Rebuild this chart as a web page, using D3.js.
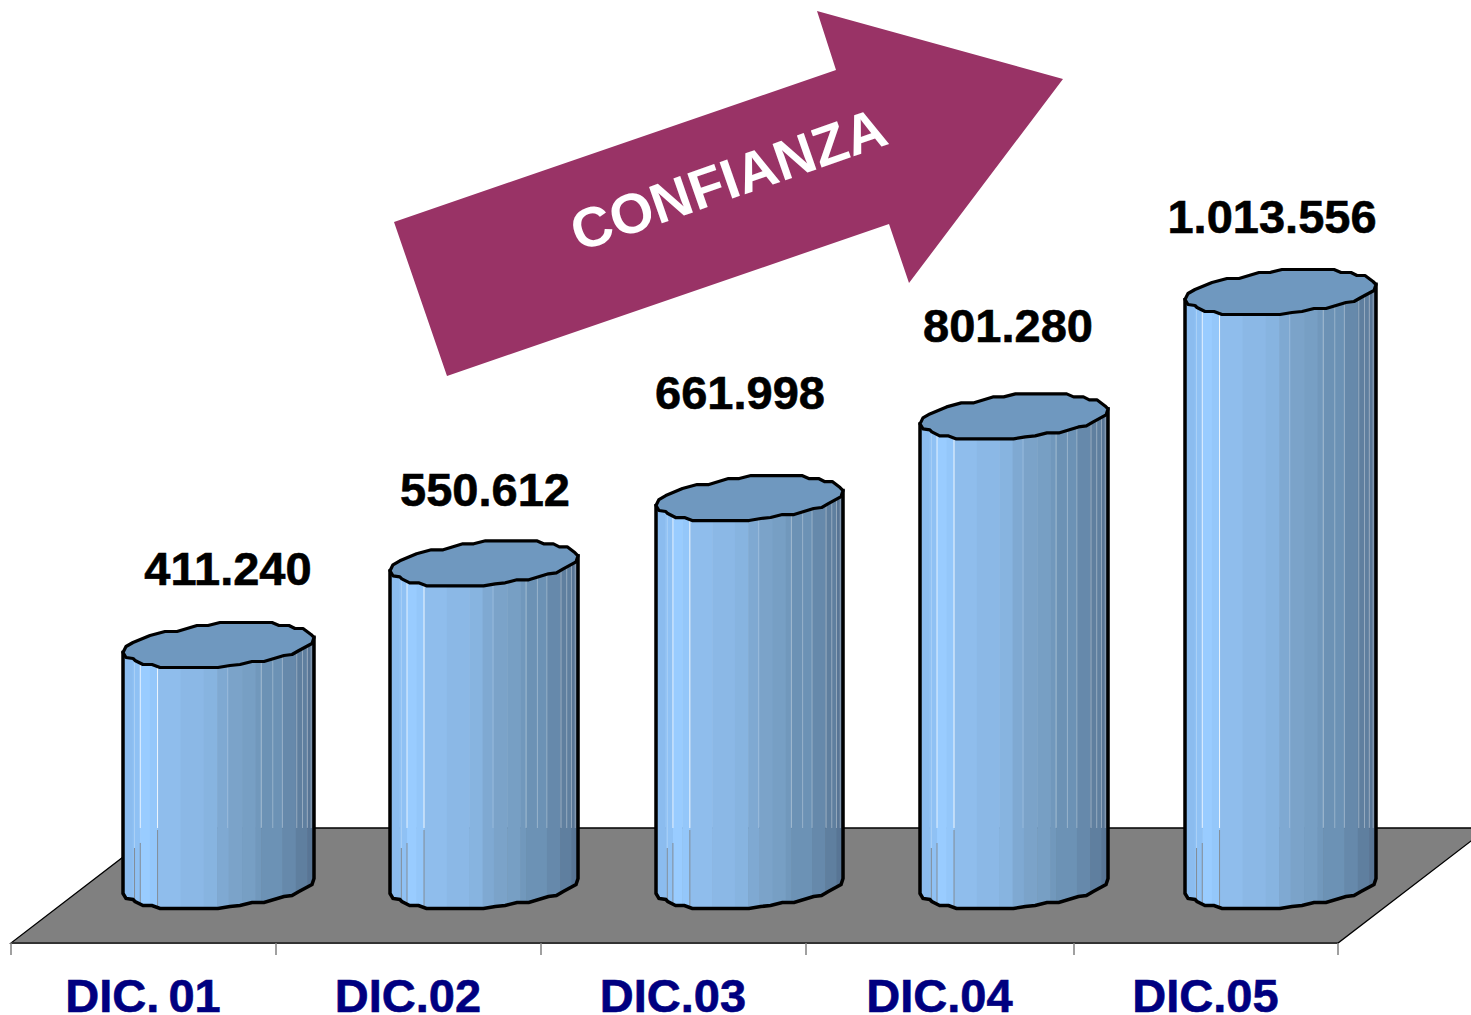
<!DOCTYPE html>
<html><head><meta charset="utf-8">
<script src="https://cdn.jsdelivr.net/npm/d3@7"></script>
<style>html,body{margin:0;padding:0;background:#fff;overflow:hidden}svg{display:block}text{font-family:"Liberation Sans",Arial,sans-serif}</style>
</head><body><div id="chart"></div>
<script>
const categories=["DIC. 01","DIC.02","DIC.03","DIC.04","DIC.05"];
const values=[411240,550612,661998,801280,1013556];
const valueLabels=["411.240","550.612","661.998","801.280","1.013.556"];
const arrowText="CONFIANZA";
// layout constants, kept apart from the data
const labelX=[228,485,740,1008,1272];
const labelDy=[-67,-65,-97,-82,-67];
const barCentres=[219,484.5,750,1014.5,1281];
const barWidths=[192,189,188,189,192];
const slotEdges=[11,276,541,806,1074,1338];
const stripEdges=[0,.05,.09,.14,.18,.30,.42,.49,.55,.62,.69,.72,.83,.90,.96,1];
const stripColors=["#8bbcef","#8fc1f4","#99ccff","#94c7fa","#8fbdec","#8bb8e6","#87b4e0","#7fa9d2","#7ba3c9","#779fc4","#7198bc","#6c92b5","#6689ab","#5f7f9f","#587595"];
const highlightEdges=[.06,.09,.18,.545,.72,.78,.83,.905,.935,.96,.98];
const highlightAlpha=[.25,.75,.85,.2,.35,.3,.3,.35,.35,.35,.35];
const W=1471,H=1015;
const svg=d3.select("#chart").append("svg").attr("width",W).attr("height",H);
const x=d3.scaleLinear().domain(d3.range(slotEdges.length)).range(slotEdges);
const y=d3.scaleLinear().domain([0,1013556]).range([893.5,299.5]);
const FLOOR_BACK=828, FLOOR_FRONT=943, SHEAR=133/102;
const floorDepth=FLOOR_FRONT-FLOOR_BACK;
svg.append("path").attr("d",d3.line()([[11,FLOOR_FRONT],[1338,FLOOR_FRONT],[1338+floorDepth*SHEAR,FLOOR_BACK],[11+floorDepth*SHEAR,FLOOR_BACK]])+"Z")
 .attr("fill","#808080").attr("stroke","#000").attr("stroke-width",1.3);
svg.append("line").attr("x1",11).attr("x2",1338).attr("y1",943).attr("y2",943).attr("stroke","#333").attr("stroke-width",2);
svg.selectAll("line.tick").data(slotEdges).join("line").attr("class","tick")
 .attr("x1",d=>d).attr("x2",d=>d).attr("y1",943).attr("y2",955).attr("stroke","#808080").attr("stroke-width",1.5);
const back=[[-96,0],[-93,-6],[-86,-10],[-69,-17],[-54,-21],[-42,-21],[-22,-27],[-11,-27],[1,-30],[53,-30],[60,-27],[70,-27],[76,-24],[84,-24],[92,-18],[95,-15]];
const front=[[95,-15],[93,-9],[80,-2],[73,2],[65,3],[45,9],[33,9],[21,12],[11,13],[-1,15],[-59,15],[-67,12],[-76,12],[-84,8],[-86,6],[-93,5],[-96,0]];
const outlineLine=d3.line().curve(d3.curveLinear);
const defs=svg.append("defs");
categories.forEach((c,i)=>{
  const bandC=(x(i)+x(i+1))/2, cx=barCentres[i], yTop=y(values[i]), yBase=y(0), bw=barWidths[i], sx=bw/192;
  const g=svg.append("g");
  const P=(p,yy)=>[cx+p[0]*sx,yy+p[1]];
  const body=outlineLine([P(front[0],yTop),P(front[0],yBase),...front.slice(1).map(p=>P(p,yBase)),P([-96,0],yTop)])+"Z";
  const id="clip"+i;
  defs.append("clipPath").attr("id",id).append("path").attr("d",body);
  const left=cx-bw/2;
  const sg=g.append("g").attr("clip-path",`url(#${id})`);
  sg.selectAll("rect").data(stripColors).join("rect")
    .attr("x",(d,k)=>left+stripEdges[k]*bw).attr("width",(d,k)=>(stripEdges[k+1]-stripEdges[k])*bw+.5)
    .attr("y",yTop-40).attr("height",yBase-yTop+80).attr("fill",d=>d);
  sg.selectAll("line.hi").data(highlightEdges).join("line").attr("class","hi")
    .attr("x1",d=>left+d*bw).attr("x2",d=>left+d*bw).attr("y1",yTop-40).attr("y2",(d,k)=>k==0?848:FLOOR_BACK)
    .attr("stroke","#fff").attr("stroke-opacity",(d,k)=>highlightAlpha[k]).attr("stroke-width",1);
  sg.selectAll("line.lo").data(highlightEdges.slice(0,3)).join("line").attr("class","lo")
    .attr("x1",d=>left+d*bw).attr("x2",d=>left+d*bw).attr("y1",(d,k)=>[848,843,830][k]).attr("y2",yBase+20)
    .attr("stroke","#808080").attr("stroke-opacity",.8).attr("stroke-width",1);
  g.append("path").attr("d",body).attr("fill","none").attr("stroke","#000").attr("stroke-width",3.5);
  g.append("path").attr("d",outlineLine([...back,...front.slice(1)].map(p=>P(p,yTop)))+"Z")
    .attr("fill","#6f98bf").attr("stroke","#000").attr("stroke-width",3.2).attr("stroke-linejoin","round");
  svg.append("text").attr("x",labelX[i]).attr("y",yTop+labelDy[i]).attr("text-anchor","middle")
    .attr("font-size",47).attr("font-weight","bold").attr("fill","#000").attr("stroke","#000").attr("stroke-width",.6).text(valueLabels[i]);
  svg.append("text").attr("x",bandC-.5).attr("y",1012).attr("text-anchor","middle").attr("word-spacing",-4)
    .attr("font-size",47).attr("font-weight","bold").attr("fill","#000080").attr("stroke","#000080").attr("stroke-width",.6).text(c);
});
svg.append("path").attr("d",d3.line()([[394,222],[836,70],[817,11],[1063,79],[909,283],[889,224],[447,376]])+"Z").attr("fill","#993366");
svg.append("text").attr("transform","translate(579,252) rotate(-19.2)").attr("font-size",56).attr("font-weight","bold").attr("fill","#fff").text(arrowText);
</script></body></html>
